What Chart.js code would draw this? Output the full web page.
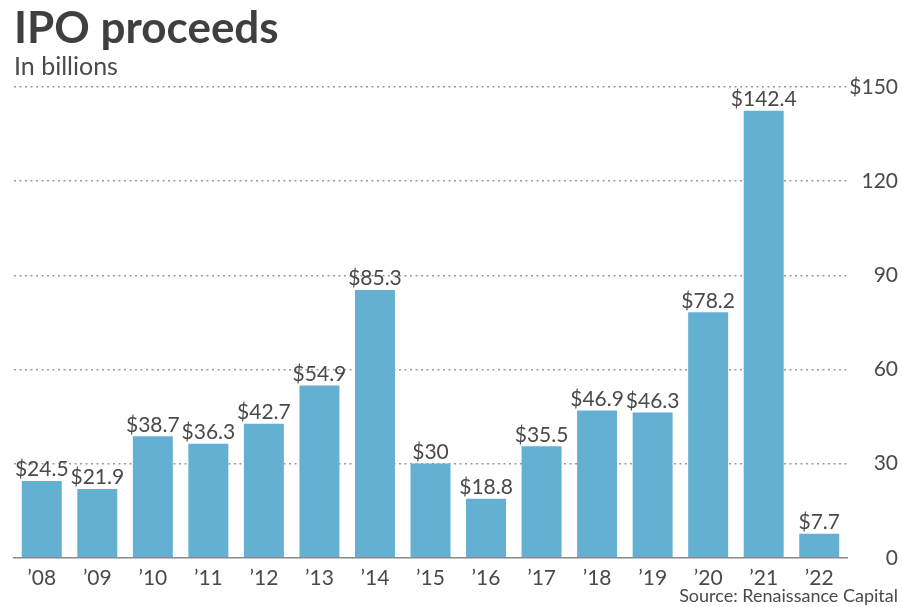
<!DOCTYPE html>
<html>
<head>
<meta charset="utf-8">
<script src="https://cdn.jsdelivr.net/npm/chart.js@4.4.1/dist/chart.umd.min.js"></script>
<style>
  html, body { margin: 0; padding: 0; background: #ffffff; }
  #wrap { width: 902px; height: 607px; position: relative; }
</style>
</head>
<body>
<div id="wrap"><canvas id="c" width="902" height="607"></canvas></div>
<script>
const years = ["\u201908","\u201909","\u201910","\u201911","\u201912","\u201913","\u201914","\u201915","\u201916","\u201917","\u201918","\u201919","\u201920","\u201921","\u201922"];
const proceeds = [24.5, 21.9, 38.7, 36.3, 42.7, 54.9, 85.3, 30, 18.8, 35.5, 46.9, 46.3, 78.2, 142.4, 7.7];
const yTicks = [0, 30, 60, 90, 120, 150];
const titleText = "IPO proceeds";
const subtitleText = "In billions";
const sourceText = "Source: Renaissance Capital";

const TEXT = "#4a4a4a";
const BAR = "#64b0d2";

const valueLabels = {
  id: "valueLabels",
  afterDatasetsDraw(chart) {
    const ctx = chart.ctx;
    const meta = chart.getDatasetMeta(0);
    ctx.save();
    ctx.font = "21px Lato";
    ctx.fillStyle = TEXT;
    ctx.textAlign = "center";
    ctx.textBaseline = "bottom";
    meta.data.forEach((bar, i) => {
      ctx.fillText("$" + proceeds[i], bar.x, bar.y - 1);
    });
    ctx.restore();
  }
};

const sourceNote = {
  id: "sourceNote",
  afterDraw(chart) {
    const ctx = chart.ctx;
    ctx.save();
    ctx.font = "18px Lato";
    ctx.fillStyle = TEXT;
    ctx.textAlign = "right";
    ctx.textBaseline = "alphabetic";
    ctx.fillText(sourceText, chart.width - 4, chart.height - 5);
    ctx.restore();
  }
};

new Chart(document.getElementById("c"), {
  type: "bar",
  data: {
    labels: years,
    datasets: [{
      data: proceeds,
      backgroundColor: BAR,
      borderWidth: 0,
      barPercentage: 0.72,
      categoryPercentage: 1.0
    }]
  },
  options: {
    responsive: false,
    animation: false,
    events: [],
    layout: { padding: { left: 14, right: 4, top: 0, bottom: 8 } },
    plugins: {
      legend: { display: false },
      tooltip: { enabled: false },
      title: {
        display: true,
        text: titleText,
        align: "start",
        color: "#3f3f3f",
        font: { family: "Lato", size: 44, weight: "bold", lineHeight: 1.1 },
        padding: { top: 5, bottom: 0 }
      },
      subtitle: {
        display: true,
        text: subtitleText,
        align: "start",
        color: TEXT,
        font: { family: "Lato", size: 25, lineHeight: 1.1 },
        padding: { top: 0, bottom: 6 }
      }
    },
    scales: {
      x: {
        grid: { display: false, drawTicks: false },
        border: { display: true, color: "#8a8a8a", width: 1.5 },
        ticks: {
          color: TEXT,
          font: { family: "Lato", size: 21 },
          padding: 8,
          maxRotation: 0,
          autoSkip: false
        }
      },
      y: {
        position: "right",
        min: 0,
        max: 150,
        afterBuildTicks(scale) { scale.ticks = yTicks.map(v => ({ value: v })); },
        afterFit(scale) { scale.width = 51; },
        grid: {
          drawTicks: false,
          color: ctx => (ctx.tick && ctx.tick.value === 0) ? "rgba(0,0,0,0)" : "#9a9a9a",
          lineWidth: 1.5
        },
        border: { display: false, dash: [2, 3.5] },
        ticks: {
          color: TEXT,
          font: { family: "Lato", size: 21 },
          padding: 2,
          crossAlign: "far",
          callback: v => v === 150 ? "$150" : String(v)
        }
      }
    }
  },
  plugins: [valueLabels, sourceNote]
});
</script>
</body>
</html>
